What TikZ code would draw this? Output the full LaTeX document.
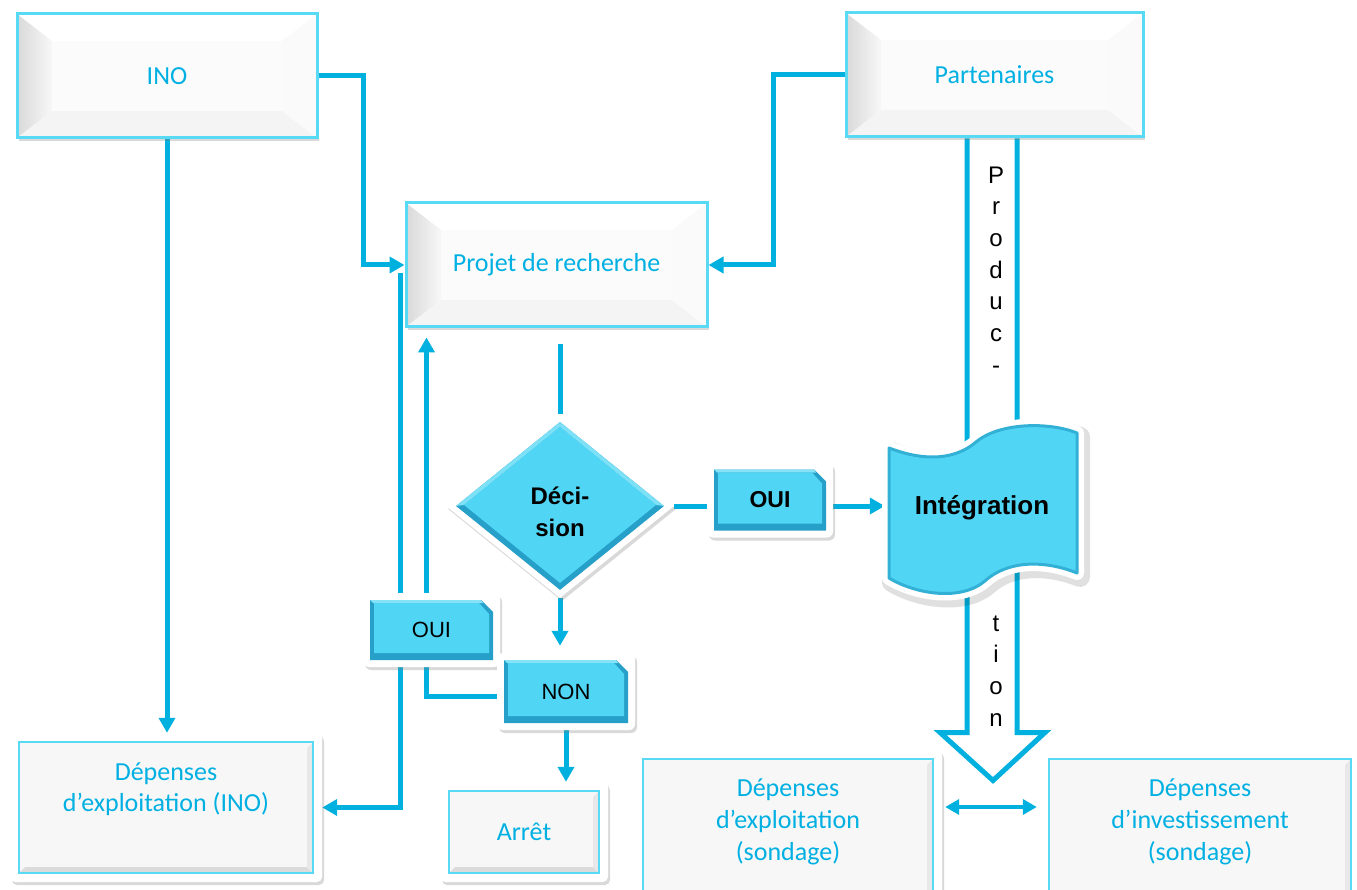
\documentclass[tikz,border=0pt]{standalone}
\usepackage{fontspec}
\setmainfont{Carlito}
\newfontfamily\arial{Liberation Sans}
\usetikzlibrary{shapes.geometric,shadows,calc,arrows.meta}
\definecolor{lineC}{RGB}{0,176,222}
\definecolor{borderC}{RGB}{88,218,244}
\definecolor{tabC}{RGB}{80,214,244}
\definecolor{tabDark}{RGB}{38,160,200}
\definecolor{textC}{RGB}{0,176,226}
\pgfdeclarelayer{lines}
\pgfsetlayers{lines,main}
\tikzset{
  conn/.style={draw=lineC, line width=5pt},
  arr/.style={-{Triangle[length=15pt,width=16pt]}},
  shad/.style={drop shadow={shadow xshift=2pt, shadow yshift=-3pt, opacity=0.3}},
  bevelbox/.style={rectangle, draw=borderC, line width=3pt, fill=white, text=textC,
    font=\fontsize{26}{31}\selectfont, minimum width=300pt, minimum height=124pt,
    inner sep=0pt, shad,
    path picture={
      \coordinate (pA) at (path picture bounding box.north west);
      \coordinate (pB) at (path picture bounding box.south east);
      \coordinate (qA) at ($(pA)+(35,27)$);
      \coordinate (qB) at ($(pB)+(-35,-27)$);
      \shade[left color=gray!30, right color=gray!6] (pA) -- (qA) -- (qA|-qB) -- (pA|-pB) -- cycle;
      \fill[gray!9] (pA|-pB) -- (qA|-qB) -- (qB) -- (pB) -- cycle;
      \fill[gray!4] (pB) -- (qB) -- (qB|-qA) -- (pB|-pA) -- cycle;
      \fill[gray!3] (qA) rectangle (qB);
    }},
  depbox/.style={rectangle, fill=white, rounded corners=5pt, text=textC,
    font=\fontsize{26}{31}\selectfont, align=center, inner sep=0pt, shad,
    path picture={
      \coordinate (pA) at (path picture bounding box.north west);
      \coordinate (pB) at (path picture bounding box.south east);
      \fill[gray!6, sharp corners] ($(pA)+(9,9)$) rectangle ($(pB)+(-9,-9)$);
      \fill[gray!28, sharp corners] ($(pA|-pB)+(9,-9)$) -- ($(pA|-pB)+(15,-15)$) -- ($(pB)+(-15,-15)$) -- ($(pB)+(-9,-9)$) -- cycle;
      \fill[gray!18, sharp corners] ($(pB)+(-9,-9)$) -- ($(pB)+(-15,-15)$) -- ($(pB|-pA)+(-15,15)$) -- ($(pB|-pA)+(-9,9)$) -- cycle;
      \draw[borderC, line width=2.5pt, sharp corners] ($(pA)+(9,9)$) rectangle ($(pB)+(-9,-9)$);
    }},
  tab/.style={rectangle, fill=white, rounded corners=6pt, shad, inner sep=0pt,
    font=\arial\fontsize{22}{26}\selectfont,
    path picture={
      \coordinate (pA) at (path picture bounding box.north west);
      \coordinate (pB) at (path picture bounding box.south east);
      \fill[tabDark, sharp corners] ($(pA)+(7,7)$) -- ($(pB|-pA)+(-19,7)$) -- ($(pB|-pA)+(-7,19)$) -- ($(pB)+(-7,-7)$) -- ($(pA|-pB)+(7,-7)$) -- cycle;
      \fill[tabC!70!white, sharp corners] ($(pA)+(7,7)$) -- ($(pB|-pA)+(-19,7)$) -- ($(pB|-pA)+(-17,10)$) -- ($(pA)+(10,10)$) -- cycle;
      \fill[tabC, sharp corners] ($(pA)+(11,10)$) -- ($(pB|-pA)+(-21,10)$) -- ($(pB|-pA)+(-11,21)$) -- ($(pB)+(-11,-14)$) -- ($(pA|-pB)+(11,-14)$) -- cycle;
    }},
  decision/.style={diamond, fill=white, minimum width=228pt, minimum height=184pt,
    inner sep=0pt, align=center, shad,
    path picture={
      \coordinate (pA) at (path picture bounding box.north west);
      \coordinate (pB) at (path picture bounding box.south east);
      \coordinate (pN) at ($(pA)!0.5!(pB|-pA)$);
      \coordinate (pS) at ($(pA|-pB)!0.5!(pB)$);
      \coordinate (pW) at ($(pA)!0.5!(pA|-pB)$);
      \coordinate (pE) at ($(pB|-pA)!0.5!(pB)$);
      \fill[tabDark] ($(pN)+(0,8)$) -- ($(pE)+(-10,0)$) -- ($(pS)+(0,-8)$) -- ($(pW)+(10,0)$) -- cycle;
      \fill[tabC!75!white] ($(pN)+(0,8)$) -- ($(pE)+(-10,0)$) -- ($(pE)+(-18,-1)$) -- ($(pN)+(0,13)$) -- ($(pW)+(18,-1)$) -- ($(pW)+(10,0)$) -- cycle;
      \fill[tabC] ($(pN)+(0,13)$) -- ($(pE)+(-18,-1)$) -- ($(pS)+(0,-15)$) -- ($(pW)+(18,-1)$) -- cycle;
    }},
  vletters/.style={font=\arial\fontsize{24}{31.7}\selectfont, align=center, inner sep=0pt, text=black}
}
\begin{document}
\begin{tikzpicture}[x=1pt,y=-1pt]
\useasboundingbox (0,0) rectangle (1357,890);

% boxes
\node[bevelbox] (ino) at (167,76) {INO};
\node[bevelbox, minimum width=297pt] (part) at (994.5,75) {Partenaires};
\node[bevelbox, minimum width=301pt] (projet) at (556.5,265) {Projet de recherche};
\node[decision, label={[font=\arial\bfseries\fontsize{24}{32}\selectfont, align=center, yshift=-6pt]center:Déci-\\sion}] (dec) at (560,506) {};
\node[tab, font=\arial\bfseries\fontsize{23}{26}\selectfont, minimum width=126pt, minimum height=75pt] (ouiR) at (770,500) {OUI};
\node[tab, minimum width=137pt, minimum height=74pt] (ouiL) at (431.5,630) {OUI};
\node[tab, minimum width=138pt, minimum height=77pt] (non) at (566,691.5) {NON};
\node[depbox, minimum width=312pt, minimum height=149pt] (depino) at (166,807.5) {Dépenses\\d’exploitation (INO)\\\strut};
\node[depbox, minimum width=168pt, minimum height=100pt] (arret) at (524,832) {Arrêt};
\node[depbox, minimum width=308pt, minimum height=180pt, font=\fontsize{26}{32}\selectfont] (ds1) at (788,840) {Dépenses\\d’exploitation\\(sondage)\\\strut};
\node[depbox, minimum width=320pt, minimum height=180pt, font=\fontsize{26}{32}\selectfont] (ds2) at (1200,840) {Dépenses\\d’investissement\\(sondage)\\\strut};

% Integration wavy shape
\draw[black, opacity=0.12, line width=20pt, line join=round, shift={(3,4)}]
  (889,448) .. controls (915,458) and (950,464) .. (976,442) .. controls (1000,422) and (1050,422) .. (1077,433) -- (1077,573) .. controls (1050,562) and (1012,558) .. (986,580) .. controls (962,602) and (915,594) .. (889,578) -- cycle;
\draw[white, fill=white, line width=14pt, line join=round]
  (889,448) .. controls (915,458) and (950,464) .. (976,442) .. controls (1000,422) and (1050,422) .. (1077,433) -- (1077,573) .. controls (1050,562) and (1012,558) .. (986,580) .. controls (962,602) and (915,594) .. (889,578) -- cycle;
\draw[tabDark!70!tabC, fill=tabC, line width=3pt, line join=round]
  (889,448) .. controls (915,458) and (950,464) .. (976,442) .. controls (1000,422) and (1050,422) .. (1077,433) -- (1077,573) .. controls (1050,562) and (1012,558) .. (986,580) .. controls (962,602) and (915,594) .. (889,578) -- cycle;
\node[font=\arial\bfseries\fontsize{26}{30}\selectfont, minimum width=194pt, minimum height=120pt, inner sep=0pt] (integ) at (982,508) {Intégration};

% vertical letters
\node[vletters] (prodA) at (996,270) {P\\r\\o\\d\\u\\c\\-};
\node[vletters] (prodB) at (996,671) {t\\i\\o\\n};

\begin{pgfonlayer}{lines}
\draw[conn,arr] (ino.east) -- ++(45,0) |- (projet.west);
\draw[conn,arr] (part.west) -- ++(-71,0) |- (projet.east);
\draw[conn,arr] (ino.south) -- (ino.south |- depino.north);
\draw[conn,arr] ($(projet.west)+(-4,8)$) |- (depino.east);
\draw[conn,arr] ($(non.west)+(0,5)$) -| ($(projet.south west)+(22,9)$);
\draw[conn] ($(dec.north |- projet.south)+(0,16)$) -- (dec.north);
\draw[conn,arr] (dec.south) -- ($(dec.south |- non.north)+(0,-7)$);
\draw[conn] (dec.east) -- (dec.east -| ouiR.west);
\draw[conn,arr] (ouiR.east |- dec.east) -- (integ.west |- dec.east);
\draw[conn,arr] (non.south) -- (non.south |- arret.north);
\draw[conn, line width=4.5pt, {Triangle[length=14pt,width=15pt]}-{Triangle[length=14pt,width=15pt]}]
  ($(ds1.east)+(3,-33)$) -- ($(ds2.west)+(-3,-33)$);
\draw[lineC, line width=5pt, fill=white, line join=miter]
  ($(part.south)+(-27.5,0)$) -- ($(part.south)+(-27.5,594)$) -- ($(part.south)+(-54.5,594)$)
  -- ($(part.south)+(-1.5,642)$) -- ($(part.south)+(50.5,594)$) -- ($(part.south)+(22.5,594)$)
  -- ($(part.south)+(22.5,0)$);
\end{pgfonlayer}
\end{tikzpicture}
\end{document}
